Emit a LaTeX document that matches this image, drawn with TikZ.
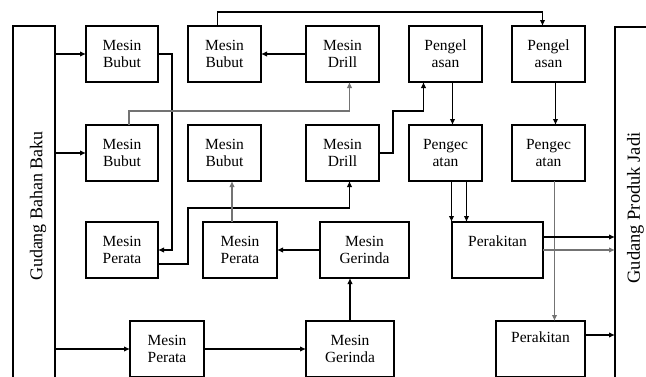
\documentclass[tikz,border=0pt]{standalone}
\usepackage{fontspec}
\setmainfont{Liberation Serif}
\usetikzlibrary{arrows.meta}
\usetikzlibrary{positioning}

\begin{document}
\begin{tikzpicture}
  [x=1pt, y=-1pt, >={Latex[length=6pt,width=5.5pt]},
   box/.style = {draw, line width=1.4pt, inner sep=0pt, outer sep=0pt,
                 minimum width=73pt, minimum height=56pt, align=center,
                 font=\fontsize{15.5}{17}\selectfont},
   store/.style = {draw, line width=1.4pt, inner sep=0pt, outer sep=0pt},
   storetext/.style = {rotate=90, inner sep=0pt, font=\fontsize{18}{20}\selectfont},
   line/.style = {->, line width=1.1pt},
   faint/.style = {line, draw=black!55}]
  \useasboundingbox (0,0) rectangle (646,376);
  \clip (0,0) rectangle (646,376);

  % gudang
  \node (bahan) [store, minimum width=42pt, minimum height=374pt] at (34,213) {};
  \node (produk) [store, minimum width=65pt, minimum height=373pt] at (647.5,213.5) {};
  \node (bahantext) [storetext] at (38,206) {Gudang Bahan Baku};
  \node (produktext) [storetext, font=\fontsize{18.5}{20}\selectfont] at (635.5,208) {Gudang Produk Jadi};

  % baris 1
  \node (bubutA) [box, minimum width=72pt] at (122,54) {Mesin\\Bubut};
  \node (bubutB) [box, right=30pt of bubutA] {Mesin\\Bubut};
  \node (drillA) [box, right=45pt of bubutB] {Mesin\\Drill};
  \node (pengelA) [box, right=30pt of drillA] {Pengel\\asan};
  \node (pengelB) [box, right=30pt of pengelA] {Pengel\\asan};

  % baris 2
  \node (bubutC) [box, minimum width=72pt, below=43pt of bubutA] {Mesin\\Bubut};
  \node (bubutD) [box, below=43pt of bubutB] {Mesin\\Bubut};
  \node (drillB) [box, below=43pt of drillA] {Mesin\\Drill};
  \node (pengecA) [box, below=43pt of pengelA] {Pengec\\atan};
  \node (pengecB) [box, below=43pt of pengelB] {Pengec\\atan};

  % baris 3
  \node (perataA) [box, minimum width=72pt, below=41pt of bubutC] {Mesin\\Perata};
  \node (perataB) [box, minimum width=74pt, right=45pt of perataA] {Mesin\\Perata};
  \node (gerindaA) [box, minimum width=89pt, right=43pt of perataB] {Mesin\\Gerinda};
  \node (perakitanA) [box, minimum width=91pt, right=43pt of gerindaA] {Perakitan\\\mbox{}};

  % baris 4
  \node (perataC) [box, minimum width=74pt, below=43pt of perataA, xshift=45pt] {Mesin\\Perata};
  \node (gerindaB) [box, minimum width=88pt, right=102pt of perataC] {Mesin\\Gerinda};
  \node (perakitanB) [box, minimum width=89pt, right=102pt of gerindaB] {Perakitan\\[6pt]\mbox{}};

  \draw [line] (bahan.east |- bubutA) -- (bubutA);
  \draw [line] (bahan.east |- bubutC) -- (bubutC);
  \draw [line] (bahan.east |- perataC) -- (perataC);
  \draw [line] (bubutA.east) -- ++(14,0) |- (perataA.east);
  \draw [line] ([yshift=-14pt]perataA.east) -- ++(30,0) -- ++(0,-56) -| ([xshift=7pt]drillB.south);
  \draw [faint] ([xshift=-8pt]perataB.north) -- ([xshift=-8pt]perataB.north |- bubutD.south);
  \draw [line] (gerindaA) -- (perataB);
  \draw [line] (gerindaB.north) -- (gerindaB.north |- gerindaA.south);
  \draw [line] (perataC) -- (gerindaB);
  \draw [line] (drillA) -- (bubutB);
  \draw [line] ([xshift=-7pt]bubutB.north) -- ++(0,-14) -| ([xshift=-6pt]pengelB.north);
  \draw [faint] ([xshift=7pt]bubutC.north) -- ++(0,-14) -| ([xshift=7pt]drillA.south);
  \draw [line] (drillB.east) -- ++(14,0) -- ++(0,-42) -| ([xshift=-22pt]pengelA.south);
  \draw [line] ([xshift=7pt]pengelA.south) -- ([xshift=7pt]pengelA.south |- pengecA.north);
  \draw [line] ([xshift=7pt]pengelB.south) -- ([xshift=7pt]pengelB.south |- pengecB.north);
  \draw [line] ([xshift=6pt]pengecA.south) -- ([xshift=6pt]pengecA.south |- perakitanA.north);
  \draw [line] ([xshift=21pt]pengecA.south) -- ([xshift=21pt]pengecA.south |- perakitanA.north);
  \draw [faint] ([xshift=6pt]pengecB.south) -- ([xshift=6pt]pengecB.south |- perakitanB.north);
  \draw [line] ([yshift=13pt]perakitanA.east) -- ([yshift=13pt]perakitanA.east -| produk.west);
  \draw [faint] (perakitanA.east) -- (perakitanA.east -| produk.west);
  \draw [line] ([yshift=14pt]perakitanB.east) -- ([yshift=14pt]perakitanB.east -| produk.west);
\end{tikzpicture}
\end{document}
